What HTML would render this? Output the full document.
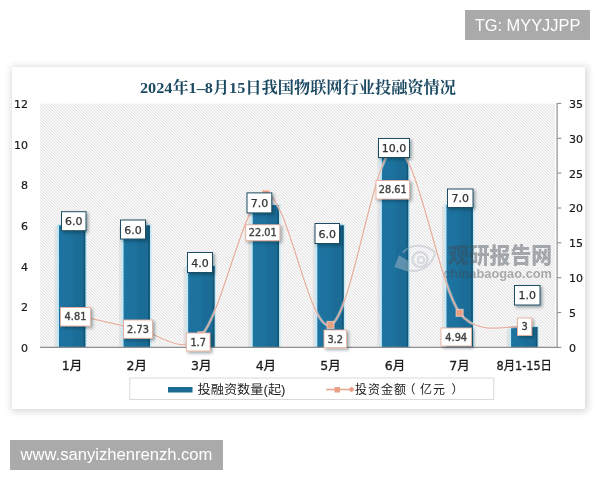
<!DOCTYPE html>
<html lang="zh-CN"><head><meta charset="utf-8"><title>2024年1-8月15日我国物联网行业投融资情况</title>
<style>
html,body{margin:0;padding:0;background:#fff;}
body{width:600px;height:480px;position:relative;overflow:hidden;font-family:"Liberation Sans","Noto Sans CJK SC",sans-serif;}
.tag{position:absolute;background:#aaaaaa;color:#fff;white-space:nowrap;will-change:transform;}
#tg{left:465px;top:10px;width:125px;height:30px;line-height:30px;font-size:16.4px;text-align:center;}
#site{left:10px;top:440px;width:213px;height:30px;line-height:29px;font-size:16.6px;text-align:center;}
#panel{position:absolute;left:12px;top:67px;width:573px;height:342px;background:#fff;box-shadow:0.5px 0.5px 7px 2px rgba(0,0,0,0.16);}
svg{position:absolute;left:0;top:0;will-change:transform;}
.ax{font-family:"DejaVu Sans","Liberation Sans",sans-serif;font-size:11px;fill:#1a1a1a;stroke:#1a1a1a;stroke-width:0.2px;}
.cat{font-family:"DejaVu Sans","Noto Sans CJK SC",sans-serif;font-size:12.5px;fill:#1a1a1a;stroke:#1a1a1a;stroke-width:0.3px;}
.dl{font-family:"DejaVu Sans","Liberation Sans",sans-serif;font-size:11px;fill:#333;stroke:#333;stroke-width:0.25px;}
.dl2{font-family:"DejaVu Sans","Liberation Sans",sans-serif;font-size:9.8px;fill:#444;stroke:#444;stroke-width:0.4px;}
.lg{font-family:"Liberation Sans","Noto Sans CJK SC",sans-serif;font-size:12px;fill:#222;}
.ttl{font-family:"Liberation Serif","Noto Serif CJK SC",serif;font-weight:bold;font-size:15.5px;fill:#1d4a63;}
</style></head><body>
<div id="panel"></div>
<div class="tag" id="tg">TG: MYYJJPP</div>
<div class="tag" id="site">www.sanyizhenrenzh.com</div>
<svg width="600" height="480" viewBox="0 0 600 480">
<defs>
<linearGradient id="bg" x1="0" x2="1" y1="0" y2="0"><stop offset="0" stop-color="#1e74a1"/><stop offset="0.5" stop-color="#1c719d"/><stop offset="0.56" stop-color="#1b6d98"/><stop offset="1" stop-color="#1a6a93"/></linearGradient>
<filter id="hb" x="0" y="0" width="1" height="1" filterUnits="objectBoundingBox"><feGaussianBlur stdDeviation="0.45"/></filter>
<filter id="sh" x="-30%" y="-30%" width="160%" height="160%"><feDropShadow dx="1.8" dy="1.8" stdDeviation="1.4" flood-color="#102030" flood-opacity="0.4"/></filter>
</defs>

<clipPath id="pc"><rect x="40.0" y="103.4" width="515.0" height="244.0"/></clipPath>
<rect x="40.0" y="103.4" width="515.0" height="244.0" fill="#fff"/>
<g clip-path="url(#pc)"><path filter="url(#hb)" d="M-204.0 103.4l244.0 244.0M-201.0 103.4l244.0 244.0M-198.0 103.4l244.0 244.0M-195.0 103.4l244.0 244.0M-192.0 103.4l244.0 244.0M-189.0 103.4l244.0 244.0M-186.0 103.4l244.0 244.0M-183.0 103.4l244.0 244.0M-180.0 103.4l244.0 244.0M-177.0 103.4l244.0 244.0M-174.0 103.4l244.0 244.0M-171.0 103.4l244.0 244.0M-168.0 103.4l244.0 244.0M-165.0 103.4l244.0 244.0M-162.0 103.4l244.0 244.0M-159.0 103.4l244.0 244.0M-156.0 103.4l244.0 244.0M-153.0 103.4l244.0 244.0M-150.0 103.4l244.0 244.0M-147.0 103.4l244.0 244.0M-144.0 103.4l244.0 244.0M-141.0 103.4l244.0 244.0M-138.0 103.4l244.0 244.0M-135.0 103.4l244.0 244.0M-132.0 103.4l244.0 244.0M-129.0 103.4l244.0 244.0M-126.0 103.4l244.0 244.0M-123.0 103.4l244.0 244.0M-120.0 103.4l244.0 244.0M-117.0 103.4l244.0 244.0M-114.0 103.4l244.0 244.0M-111.0 103.4l244.0 244.0M-108.0 103.4l244.0 244.0M-105.0 103.4l244.0 244.0M-102.0 103.4l244.0 244.0M-99.0 103.4l244.0 244.0M-96.0 103.4l244.0 244.0M-93.0 103.4l244.0 244.0M-90.0 103.4l244.0 244.0M-87.0 103.4l244.0 244.0M-84.0 103.4l244.0 244.0M-81.0 103.4l244.0 244.0M-78.0 103.4l244.0 244.0M-75.0 103.4l244.0 244.0M-72.0 103.4l244.0 244.0M-69.0 103.4l244.0 244.0M-66.0 103.4l244.0 244.0M-63.0 103.4l244.0 244.0M-60.0 103.4l244.0 244.0M-57.0 103.4l244.0 244.0M-54.0 103.4l244.0 244.0M-51.0 103.4l244.0 244.0M-48.0 103.4l244.0 244.0M-45.0 103.4l244.0 244.0M-42.0 103.4l244.0 244.0M-39.0 103.4l244.0 244.0M-36.0 103.4l244.0 244.0M-33.0 103.4l244.0 244.0M-30.0 103.4l244.0 244.0M-27.0 103.4l244.0 244.0M-24.0 103.4l244.0 244.0M-21.0 103.4l244.0 244.0M-18.0 103.4l244.0 244.0M-15.0 103.4l244.0 244.0M-12.0 103.4l244.0 244.0M-9.0 103.4l244.0 244.0M-6.0 103.4l244.0 244.0M-3.0 103.4l244.0 244.0M0.0 103.4l244.0 244.0M3.0 103.4l244.0 244.0M6.0 103.4l244.0 244.0M9.0 103.4l244.0 244.0M12.0 103.4l244.0 244.0M15.0 103.4l244.0 244.0M18.0 103.4l244.0 244.0M21.0 103.4l244.0 244.0M24.0 103.4l244.0 244.0M27.0 103.4l244.0 244.0M30.0 103.4l244.0 244.0M33.0 103.4l244.0 244.0M36.0 103.4l244.0 244.0M39.0 103.4l244.0 244.0M42.0 103.4l244.0 244.0M45.0 103.4l244.0 244.0M48.0 103.4l244.0 244.0M51.0 103.4l244.0 244.0M54.0 103.4l244.0 244.0M57.0 103.4l244.0 244.0M60.0 103.4l244.0 244.0M63.0 103.4l244.0 244.0M66.0 103.4l244.0 244.0M69.0 103.4l244.0 244.0M72.0 103.4l244.0 244.0M75.0 103.4l244.0 244.0M78.0 103.4l244.0 244.0M81.0 103.4l244.0 244.0M84.0 103.4l244.0 244.0M87.0 103.4l244.0 244.0M90.0 103.4l244.0 244.0M93.0 103.4l244.0 244.0M96.0 103.4l244.0 244.0M99.0 103.4l244.0 244.0M102.0 103.4l244.0 244.0M105.0 103.4l244.0 244.0M108.0 103.4l244.0 244.0M111.0 103.4l244.0 244.0M114.0 103.4l244.0 244.0M117.0 103.4l244.0 244.0M120.0 103.4l244.0 244.0M123.0 103.4l244.0 244.0M126.0 103.4l244.0 244.0M129.0 103.4l244.0 244.0M132.0 103.4l244.0 244.0M135.0 103.4l244.0 244.0M138.0 103.4l244.0 244.0M141.0 103.4l244.0 244.0M144.0 103.4l244.0 244.0M147.0 103.4l244.0 244.0M150.0 103.4l244.0 244.0M153.0 103.4l244.0 244.0M156.0 103.4l244.0 244.0M159.0 103.4l244.0 244.0M162.0 103.4l244.0 244.0M165.0 103.4l244.0 244.0M168.0 103.4l244.0 244.0M171.0 103.4l244.0 244.0M174.0 103.4l244.0 244.0M177.0 103.4l244.0 244.0M180.0 103.4l244.0 244.0M183.0 103.4l244.0 244.0M186.0 103.4l244.0 244.0M189.0 103.4l244.0 244.0M192.0 103.4l244.0 244.0M195.0 103.4l244.0 244.0M198.0 103.4l244.0 244.0M201.0 103.4l244.0 244.0M204.0 103.4l244.0 244.0M207.0 103.4l244.0 244.0M210.0 103.4l244.0 244.0M213.0 103.4l244.0 244.0M216.0 103.4l244.0 244.0M219.0 103.4l244.0 244.0M222.0 103.4l244.0 244.0M225.0 103.4l244.0 244.0M228.0 103.4l244.0 244.0M231.0 103.4l244.0 244.0M234.0 103.4l244.0 244.0M237.0 103.4l244.0 244.0M240.0 103.4l244.0 244.0M243.0 103.4l244.0 244.0M246.0 103.4l244.0 244.0M249.0 103.4l244.0 244.0M252.0 103.4l244.0 244.0M255.0 103.4l244.0 244.0M258.0 103.4l244.0 244.0M261.0 103.4l244.0 244.0M264.0 103.4l244.0 244.0M267.0 103.4l244.0 244.0M270.0 103.4l244.0 244.0M273.0 103.4l244.0 244.0M276.0 103.4l244.0 244.0M279.0 103.4l244.0 244.0M282.0 103.4l244.0 244.0M285.0 103.4l244.0 244.0M288.0 103.4l244.0 244.0M291.0 103.4l244.0 244.0M294.0 103.4l244.0 244.0M297.0 103.4l244.0 244.0M300.0 103.4l244.0 244.0M303.0 103.4l244.0 244.0M306.0 103.4l244.0 244.0M309.0 103.4l244.0 244.0M312.0 103.4l244.0 244.0M315.0 103.4l244.0 244.0M318.0 103.4l244.0 244.0M321.0 103.4l244.0 244.0M324.0 103.4l244.0 244.0M327.0 103.4l244.0 244.0M330.0 103.4l244.0 244.0M333.0 103.4l244.0 244.0M336.0 103.4l244.0 244.0M339.0 103.4l244.0 244.0M342.0 103.4l244.0 244.0M345.0 103.4l244.0 244.0M348.0 103.4l244.0 244.0M351.0 103.4l244.0 244.0M354.0 103.4l244.0 244.0M357.0 103.4l244.0 244.0M360.0 103.4l244.0 244.0M363.0 103.4l244.0 244.0M366.0 103.4l244.0 244.0M369.0 103.4l244.0 244.0M372.0 103.4l244.0 244.0M375.0 103.4l244.0 244.0M378.0 103.4l244.0 244.0M381.0 103.4l244.0 244.0M384.0 103.4l244.0 244.0M387.0 103.4l244.0 244.0M390.0 103.4l244.0 244.0M393.0 103.4l244.0 244.0M396.0 103.4l244.0 244.0M399.0 103.4l244.0 244.0M402.0 103.4l244.0 244.0M405.0 103.4l244.0 244.0M408.0 103.4l244.0 244.0M411.0 103.4l244.0 244.0M414.0 103.4l244.0 244.0M417.0 103.4l244.0 244.0M420.0 103.4l244.0 244.0M423.0 103.4l244.0 244.0M426.0 103.4l244.0 244.0M429.0 103.4l244.0 244.0M432.0 103.4l244.0 244.0M435.0 103.4l244.0 244.0M438.0 103.4l244.0 244.0M441.0 103.4l244.0 244.0M444.0 103.4l244.0 244.0M447.0 103.4l244.0 244.0M450.0 103.4l244.0 244.0M453.0 103.4l244.0 244.0M456.0 103.4l244.0 244.0M459.0 103.4l244.0 244.0M462.0 103.4l244.0 244.0M465.0 103.4l244.0 244.0M468.0 103.4l244.0 244.0M471.0 103.4l244.0 244.0M474.0 103.4l244.0 244.0M477.0 103.4l244.0 244.0M480.0 103.4l244.0 244.0M483.0 103.4l244.0 244.0M486.0 103.4l244.0 244.0M489.0 103.4l244.0 244.0M492.0 103.4l244.0 244.0M495.0 103.4l244.0 244.0M498.0 103.4l244.0 244.0M501.0 103.4l244.0 244.0M504.0 103.4l244.0 244.0M507.0 103.4l244.0 244.0M510.0 103.4l244.0 244.0M513.0 103.4l244.0 244.0M516.0 103.4l244.0 244.0M519.0 103.4l244.0 244.0M522.0 103.4l244.0 244.0M525.0 103.4l244.0 244.0M528.0 103.4l244.0 244.0M531.0 103.4l244.0 244.0M534.0 103.4l244.0 244.0M537.0 103.4l244.0 244.0M540.0 103.4l244.0 244.0M543.0 103.4l244.0 244.0M546.0 103.4l244.0 244.0M549.0 103.4l244.0 244.0M552.0 103.4l244.0 244.0" stroke="#cdcdcd" stroke-width="0.85" fill="none"/></g>
<text class="ttl" x="298" y="92.5" text-anchor="middle" textLength="316" lengthAdjust="spacingAndGlyphs">2024年1–8月15日我国物联网行业投融资情况</text>
<rect x="54.35" y="226.40" width="3" height="121.00" fill="#000" fill-opacity="0.06"/>
<rect x="56.75" y="224.20" width="30.20" height="123.20" fill="#c6e8f5"/>
<rect x="58.95" y="225.40" width="26.30" height="122.00" fill="url(#bg)"/>
<rect x="83.65" y="225.40" width="1.6" height="122.00" fill="#135676"/>
<rect x="118.94" y="226.40" width="3" height="121.00" fill="#000" fill-opacity="0.06"/>
<rect x="121.34" y="224.20" width="30.20" height="123.20" fill="#c6e8f5"/>
<rect x="123.54" y="225.40" width="26.30" height="122.00" fill="url(#bg)"/>
<rect x="148.24" y="225.40" width="1.6" height="122.00" fill="#135676"/>
<rect x="183.53" y="267.07" width="3" height="80.33" fill="#000" fill-opacity="0.06"/>
<rect x="185.93" y="264.87" width="30.20" height="82.53" fill="#c6e8f5"/>
<rect x="188.13" y="266.07" width="26.30" height="81.33" fill="url(#bg)"/>
<rect x="212.83" y="266.07" width="1.6" height="81.33" fill="#135676"/>
<rect x="248.12" y="206.07" width="3" height="141.33" fill="#000" fill-opacity="0.06"/>
<rect x="250.52" y="203.87" width="30.20" height="143.53" fill="#c6e8f5"/>
<rect x="252.72" y="205.07" width="26.30" height="142.33" fill="url(#bg)"/>
<rect x="277.42" y="205.07" width="1.6" height="142.33" fill="#135676"/>
<rect x="312.71" y="226.40" width="3" height="121.00" fill="#000" fill-opacity="0.06"/>
<rect x="315.11" y="224.20" width="30.20" height="123.20" fill="#c6e8f5"/>
<rect x="317.31" y="225.40" width="26.30" height="122.00" fill="url(#bg)"/>
<rect x="342.01" y="225.40" width="1.6" height="122.00" fill="#135676"/>
<rect x="377.30" y="145.07" width="3" height="202.33" fill="#000" fill-opacity="0.06"/>
<rect x="379.70" y="142.87" width="30.20" height="204.53" fill="#c6e8f5"/>
<rect x="381.90" y="144.07" width="26.30" height="203.33" fill="url(#bg)"/>
<rect x="406.60" y="144.07" width="1.6" height="203.33" fill="#135676"/>
<rect x="441.89" y="206.07" width="3" height="141.33" fill="#000" fill-opacity="0.06"/>
<rect x="444.29" y="203.87" width="30.20" height="143.53" fill="#c6e8f5"/>
<rect x="446.49" y="205.07" width="26.30" height="142.33" fill="url(#bg)"/>
<rect x="471.19" y="205.07" width="1.6" height="142.33" fill="#135676"/>
<rect x="506.48" y="328.07" width="3" height="19.33" fill="#000" fill-opacity="0.06"/>
<rect x="508.88" y="325.87" width="30.20" height="21.53" fill="#c6e8f5"/>
<rect x="511.08" y="327.07" width="26.30" height="20.33" fill="url(#bg)"/>
<rect x="535.78" y="327.07" width="1.6" height="20.33" fill="#135676"/>
<path d="M40.0 347.4H557.3" stroke="#8f8f8f" stroke-width="1.2" fill="none"/>
<path d="M557.1 102.9V347.9" stroke="#8f8f8f" stroke-width="1.2" fill="none"/>
<path d="M557.3 347.4h4" stroke="#8f8f8f" stroke-width="1.1"/>
<text class="ax" x="569" y="351.8">0</text>
<path d="M557.3 312.5h4" stroke="#8f8f8f" stroke-width="1.1"/>
<text class="ax" x="569" y="316.9">5</text>
<path d="M557.3 277.7h4" stroke="#8f8f8f" stroke-width="1.1"/>
<text class="ax" x="569" y="282.1">10</text>
<path d="M557.3 242.8h4" stroke="#8f8f8f" stroke-width="1.1"/>
<text class="ax" x="569" y="247.2">15</text>
<path d="M557.3 208.0h4" stroke="#8f8f8f" stroke-width="1.1"/>
<text class="ax" x="569" y="212.4">20</text>
<path d="M557.3 173.1h4" stroke="#8f8f8f" stroke-width="1.1"/>
<text class="ax" x="569" y="177.5">25</text>
<path d="M557.3 138.3h4" stroke="#8f8f8f" stroke-width="1.1"/>
<text class="ax" x="569" y="142.7">30</text>
<path d="M557.3 103.4h4" stroke="#8f8f8f" stroke-width="1.1"/>
<text class="ax" x="569" y="107.8">35</text>
<text class="ax" x="28" y="351.8" text-anchor="end">0</text>
<text class="ax" x="28" y="311.1" text-anchor="end">2</text>
<text class="ax" x="28" y="270.5" text-anchor="end">4</text>
<text class="ax" x="28" y="229.8" text-anchor="end">6</text>
<text class="ax" x="28" y="189.1" text-anchor="end">8</text>
<text class="ax" x="28" y="148.5" text-anchor="end">10</text>
<text class="ax" x="28" y="107.8" text-anchor="end">12</text>
<text class="cat" x="72.1" y="369.7" text-anchor="middle">1月</text>
<text class="cat" x="136.7" y="369.7" text-anchor="middle">2月</text>
<text class="cat" x="201.3" y="369.7" text-anchor="middle">3月</text>
<text class="cat" x="265.9" y="369.7" text-anchor="middle">4月</text>
<text class="cat" x="330.5" y="369.7" text-anchor="middle">5月</text>
<text class="cat" x="395.1" y="369.7" text-anchor="middle">6月</text>
<text class="cat" x="459.6" y="369.7" text-anchor="middle">7月</text>
<text class="cat" x="524.2" y="369.7" text-anchor="middle" textLength="55.5" lengthAdjust="spacingAndGlyphs">8月1-15日</text>
<g><text x="448" y="262.5" font-family="'Liberation Sans','Noto Sans CJK SC',sans-serif" font-weight="900" font-size="22" fill="#40464f" fill-opacity="0.44" textLength="104" lengthAdjust="spacingAndGlyphs">观研报告网</text>
<text x="443" y="278.3" font-family="'Liberation Sans',sans-serif" font-weight="bold" font-size="13.5" fill="#40444a" fill-opacity="0.42" textLength="109" lengthAdjust="spacingAndGlyphs">chinabaogao.com</text>
<g fill="none" stroke="#aeb6c0" stroke-opacity="0.45" stroke-width="2" stroke-linecap="round"><path d="M403.5 252C409 245.500 424 241.500 435.500 253C432 263 424 273 408.500 270.500"/><circle cx="420" cy="259.500" r="7.500" stroke-width="2"/><circle cx="421" cy="260" r="3.200" stroke-width="1.500"/></g>
<path d="M394.3 267L399 255.300L408.500 261L408.500 271.700Z" fill="#b4c0cc" fill-opacity="0.45"/></g>
<path d="M72.10 313.87 C82.86 316.28 115.16 324.75 136.69 328.37 C158.22 331.98 179.75 357.95 201.28 335.55 C222.81 313.15 244.34 195.70 265.87 193.96 C287.40 192.22 308.93 332.76 330.46 325.09 C351.99 317.42 373.52 149.97 395.05 147.95 C416.58 145.93 438.11 283.20 459.64 312.96 C477.73 337.96 513.47 324.23 524.23 326.49" fill="none" stroke="#fff" stroke-opacity="0.4" stroke-width="3"/>
<path d="M72.10 313.87 C82.86 316.28 115.16 324.75 136.69 328.37 C158.22 331.98 179.75 357.95 201.28 335.55 C222.81 313.15 244.34 195.70 265.87 193.96 C287.40 192.22 308.93 332.76 330.46 325.09 C351.99 317.42 373.52 149.97 395.05 147.95 C416.58 145.93 438.11 283.20 459.64 312.96 C477.73 337.96 513.47 324.23 524.23 326.49" fill="none" stroke="#e6b0a0" stroke-width="1.35"/>
<rect x="68.6" y="310.2" width="7" height="7" fill="#e8a084" stroke="#f3d3c6" stroke-opacity="0.8" stroke-width="1"/>
<rect x="133.2" y="324.7" width="7" height="7" fill="#e8a084" stroke="#f3d3c6" stroke-opacity="0.8" stroke-width="1"/>
<rect x="197.8" y="331.8" width="7" height="7" fill="#e8a084" stroke="#f3d3c6" stroke-opacity="0.8" stroke-width="1"/>
<rect x="262.4" y="190.3" width="7" height="7" fill="#e8a084" stroke="#f3d3c6" stroke-opacity="0.8" stroke-width="1"/>
<rect x="327.0" y="321.4" width="7" height="7" fill="#e8a084" stroke="#f3d3c6" stroke-opacity="0.8" stroke-width="1"/>
<rect x="391.6" y="144.2" width="7" height="7" fill="#e8a084" stroke="#f3d3c6" stroke-opacity="0.8" stroke-width="1"/>
<rect x="456.1" y="309.3" width="7" height="7" fill="#e8a084" stroke="#f3d3c6" stroke-opacity="0.8" stroke-width="1"/>
<rect x="520.7" y="322.8" width="7" height="7" fill="#e8a084" stroke="#f3d3c6" stroke-opacity="0.8" stroke-width="1"/>
<rect x="61.5" y="211.7" width="24.5" height="19.0" fill="#fff" stroke="#1f4e62" stroke-width="1" filter="url(#sh)"/>
<text class="dl" x="73.8" y="225.4" text-anchor="middle">6.0</text>
<rect x="120.5" y="220.0" width="25.0" height="19.0" fill="#fff" stroke="#1f4e62" stroke-width="1" filter="url(#sh)"/>
<text class="dl" x="133.0" y="233.7" text-anchor="middle">6.0</text>
<rect x="187.5" y="252.5" width="25.0" height="20.0" fill="#fff" stroke="#1f4e62" stroke-width="1" filter="url(#sh)"/>
<text class="dl" x="200.0" y="266.7" text-anchor="middle">4.0</text>
<rect x="247.0" y="192.9" width="24.8" height="20.0" fill="#fff" stroke="#1f4e62" stroke-width="1" filter="url(#sh)"/>
<text class="dl" x="259.4" y="207.1" text-anchor="middle">7.0</text>
<rect x="315.0" y="223.5" width="24.5" height="20.0" fill="#fff" stroke="#1f4e62" stroke-width="1" filter="url(#sh)"/>
<text class="dl" x="327.2" y="237.7" text-anchor="middle">6.0</text>
<rect x="378.5" y="138.5" width="31.0" height="19.0" fill="#fff" stroke="#1f4e62" stroke-width="1" filter="url(#sh)"/>
<text class="dl" x="394.0" y="152.2" text-anchor="middle">10.0</text>
<rect x="447.5" y="189.0" width="25.5" height="18.5" fill="#fff" stroke="#1f4e62" stroke-width="1" filter="url(#sh)"/>
<text class="dl" x="460.2" y="202.4" text-anchor="middle">7.0</text>
<rect x="514.5" y="285.5" width="25.5" height="19.5" fill="#fff" stroke="#1f4e62" stroke-width="1" filter="url(#sh)"/>
<text class="dl" x="527.2" y="299.4" text-anchor="middle">1.0</text>
<rect x="60.5" y="307.5" width="30.0" height="18.5" fill="#fff" stroke="#e6b09e" stroke-width="0.9" filter="url(#sh)"/>
<text class="dl2" x="75.5" y="320.4" text-anchor="middle">4.81</text>
<rect x="123.5" y="320.0" width="29.0" height="18.3" fill="#fff" stroke="#e6b09e" stroke-width="0.9" filter="url(#sh)"/>
<text class="dl2" x="138.0" y="332.8" text-anchor="middle">2.73</text>
<rect x="186.3" y="333.0" width="23.7" height="18.0" fill="#fff" stroke="#e6b09e" stroke-width="0.9" filter="url(#sh)"/>
<text class="dl2" x="198.2" y="345.6" text-anchor="middle">1.7</text>
<rect x="245.7" y="224.8" width="34.2" height="15.9" fill="#fff" stroke="#e6b09e" stroke-width="0.9" filter="url(#sh)"/>
<text class="dl2" x="262.8" y="236.3" text-anchor="middle">22.01</text>
<rect x="324.0" y="330.0" width="22.5" height="17.8" fill="#fff" stroke="#e6b09e" stroke-width="0.9" filter="url(#sh)"/>
<text class="dl2" x="335.2" y="342.5" text-anchor="middle">3.2</text>
<rect x="376.0" y="180.5" width="33.5" height="18.5" fill="#fff" stroke="#e6b09e" stroke-width="0.9" filter="url(#sh)"/>
<text class="dl2" x="392.8" y="193.3" text-anchor="middle">28.61</text>
<rect x="441.0" y="328.0" width="30.5" height="18.0" fill="#fff" stroke="#e6b09e" stroke-width="0.9" filter="url(#sh)"/>
<text class="dl2" x="456.2" y="340.6" text-anchor="middle">4.94</text>
<rect x="517.5" y="318.0" width="14.2" height="17.5" fill="#fff" stroke="#e6b09e" stroke-width="0.9" filter="url(#sh)"/>
<text class="dl2" x="524.6" y="330.4" text-anchor="middle">3</text>
<rect x="129.8" y="378" width="364" height="21.5" fill="#fff" stroke="#d9d9d9" stroke-width="1"/>
<rect x="168" y="387" width="24.5" height="5.5" fill="#1b6c93"/>
<text class="lg" x="197.5" y="394" textLength="88" lengthAdjust="spacingAndGlyphs">投融资数量(起)</text>
<path d="M326 389.5H354" stroke="#e8a890" stroke-width="1.6"/><rect x="334.5" y="387" width="5.5" height="5.5" fill="#e8a188"/><path d="M351.5 386.5l3 3-3 3-3-3z" fill="#e8a188"/>
<text class="lg" y="394"><tspan x="355">投</tspan><tspan x="368">资</tspan><tspan x="381">金</tspan><tspan x="394">额</tspan><tspan x="403.5">（</tspan><tspan x="420">亿</tspan><tspan x="433">元</tspan><tspan x="451.5">）</tspan></text>
</svg></body></html>
